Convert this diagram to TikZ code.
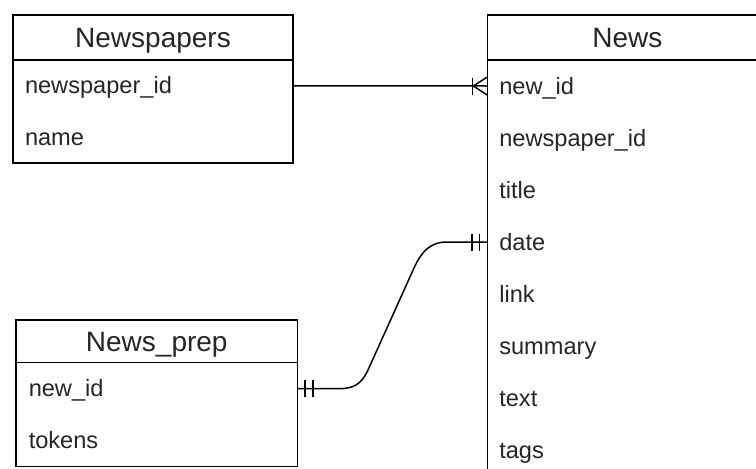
\documentclass[tikz,border=0pt]{standalone}
\usepackage{fontspec}
\setmainfont{Liberation Sans}
\usetikzlibrary{positioning}
\tikzset{
  hdr/.style={draw, line width=1.5pt, outer sep=0pt, inner sep=0pt,
    minimum height=45pt, minimum width=280pt,
    font=\fontsize{28}{30}\selectfont, text=black!85, text height=20pt, text depth=0pt},
  row/.style={outer sep=0pt, inner xsep=12pt, inner ysep=0pt,
    minimum height=52pt, minimum width=280pt, text width=256pt, align=left,
    font=\fontsize{23.6}{26}\selectfont, text=black!85, text height=16pt, text depth=0pt},
  body/.style={draw, line width=1.5pt},
  conn/.style={draw, line width=1.5pt},
}
\begin{document}
\begin{tikzpicture}[x=1pt,y=-1pt]
\useasboundingbox (0,0) rectangle (756,469);
\clip (0,0) rectangle (756,469);
\fill[white] (0,0) rectangle (756,469);

% Newspapers
\node[hdr, anchor=north west] (nph) at (13,15) {Newspapers};
\node[row, below=0pt of nph, minimum height=51.5pt] (npid) {newspaper\_id};
\node[row, below=0pt of npid, minimum height=51.5pt] (npname) {name};
\draw[body] (nph.south west) rectangle (npname.south east);

% News
\node[hdr, anchor=north west] (nwh) at (487.3,15) {News};
\node[row, below=0pt of nwh] (nwid) {new\_id};
\node[row, below=0pt of nwid] (nwnp) {newspaper\_id};
\node[row, below=0pt of nwnp] (nwtitle) {title};
\node[row, below=0pt of nwtitle] (nwdate) {date};
\node[row, below=0pt of nwdate] (nwlink) {link};
\node[row, below=0pt of nwlink] (nwsum) {summary};
\node[row, below=0pt of nwsum] (nwtext) {text};
\node[row, below=0pt of nwtext] (nwtags) {tags};
\draw[body] (nwh.south west) rectangle (nwtags.south east);

% News_prep
\node[hdr, anchor=north west, minimum width=281.5pt, minimum height=42.7pt] (pph) at (16,320) {News\_prep};
\node[row, below=0pt of pph, minimum width=281.5pt] (ppid) {new\_id};
\node[row, below=0pt of ppid, minimum width=281.5pt] (pptok) {tokens};
\draw[body] (pph.south west) rectangle (pptok.south east);

% Connector Newspapers -> News (one to many)
\draw[conn] (npid.east) -- (nwid.west);
\draw[conn] ([xshift=-15pt,yshift=8.5pt]nwid.west) -- ([xshift=-15pt,yshift=-8.5pt]nwid.west);
\draw[conn] ([xshift=-14pt]nwid.west) -- ([yshift=9pt]nwid.west);
\draw[conn] ([xshift=-14pt]nwid.west) -- ([yshift=-9pt]nwid.west);

% Connector News_prep -> News (one to one)
\draw[conn] (ppid.east) -- (338,388.7) .. controls (353,388.7) and (361,385) .. (368,370)
  -- (414,268) .. controls (421,253) and (429,242) .. (447,242) -- (nwdate.west);
\draw[conn] ([xshift=7.5pt,yshift=8.5pt]ppid.east) -- ([xshift=7.5pt,yshift=-8.5pt]ppid.east);
\draw[conn] ([xshift=15.5pt,yshift=8.5pt]ppid.east) -- ([xshift=15.5pt,yshift=-8.5pt]ppid.east);
\draw[conn] ([xshift=-15.5pt,yshift=8.5pt]nwdate.west) -- ([xshift=-15.5pt,yshift=-8.5pt]nwdate.west);
\draw[conn] ([xshift=-8pt,yshift=8.5pt]nwdate.west) -- ([xshift=-8pt,yshift=-8.5pt]nwdate.west);
\end{tikzpicture}
\end{document}
